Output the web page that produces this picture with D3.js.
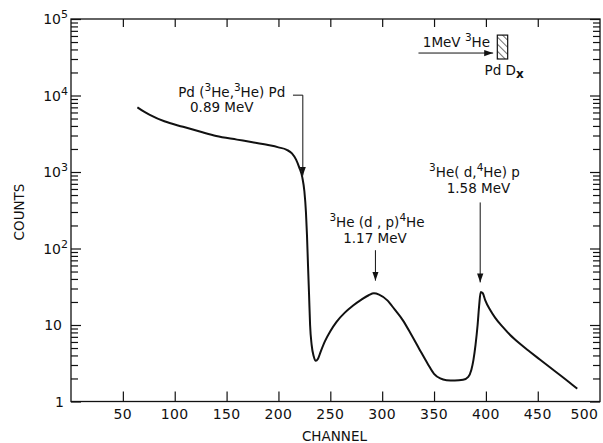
<!DOCTYPE html>
<html><head><meta charset="utf-8">
<script src="https://cdn.jsdelivr.net/npm/d3@7"></script>
<style>
body{margin:0;background:#fff;}
text{font-family:"DejaVu Sans",sans-serif;fill:#111;}
</style></head>
<body><svg id="c" width="603" height="443"></svg>
<script>
// ---- data ----
const channels = [64,70,76,90,108,125,140,160,175,190,200,208,213,217,220,223,225,226.5,227.5,228.5,229.5,230.5,232,234,236,238,241,245,250,256,264,272,280,287,292,297,305,312,320,328,336,344,350,356,362,370,378,383,386,388,390,392,393.5,395,397,399.3,404,409,416,423.4,432,442.7,452,462,472,480,488];
const counts = [7000,6200,5600,4600,3900,3350,2950,2650,2450,2250,2100,1950,1750,1450,1150,850,560,300,150,60,25,10,5.5,3.9,3.4,3.6,4.6,6.2,8.3,11,14.5,18,21.5,24.5,26,25,21,16,11.5,7.5,4.8,3.1,2.3,2.0,1.9,1.88,1.92,2.1,2.6,3.5,5.5,10,18,27,26,21.2,15.8,12.4,9.5,7.4,5.8,4.44,3.54,2.78,2.19,1.8,1.47];
const xTicks = [50,100,150,200,250,300,350,400,450];
const xTickLabels = ["50","100","150","200","250","300","350","400","450","500"];
const xLabelValues = [50,100,150,200,250,300,350,400,450,495];
const yDecades = [1,10,100,1000,10000,100000];
const yExponents = ["","","2","3","4","5"];

const svg = d3.select("#c");
const L=71, R=600, T=19, B=401.5;
const x = d3.scaleLinear().domain([0,510]).range([L,R]);
const y = d3.scaleLog().domain([1,1e5]).range([B,T]);

// minor ticks
const minor=[];
for(let d=1; d<1e5; d*=10) for(let k=2;k<=9;k++) minor.push(d*k);

const g = svg.append("g");
g.append("rect").attr("x",L).attr("y",T).attr("width",R-L).attr("height",B-T)
 .attr("fill","none").attr("stroke","#111").attr("stroke-width",1.3);

g.append("g").attr("transform",`translate(${L},0)`).call(d3.axisLeft(y).tickValues(yDecades).tickSize(-10).tickFormat(""));
g.append("g").attr("transform",`translate(${L},0)`).call(d3.axisLeft(y).tickValues(minor).tickSize(-7).tickFormat(""));
g.append("g").attr("transform",`translate(${R},0)`).call(d3.axisRight(y).tickValues(yDecades).tickSize(-10).tickFormat(""));
g.append("g").attr("transform",`translate(${R},0)`).call(d3.axisRight(y).tickValues(minor).tickSize(-7).tickFormat(""));
g.append("g").attr("transform",`translate(0,${B})`).call(d3.axisBottom(x).tickValues(xTicks).tickSize(-10).tickFormat(""));
g.append("g").attr("transform",`translate(0,${T})`).call(d3.axisTop(x).tickValues(xTicks).tickSize(-8).tickFormat(""));
g.selectAll(".domain").remove();
g.selectAll(".tick line").attr("stroke","#111").attr("stroke-width",1.2);

// y tick labels
yDecades.forEach((v,i)=>{
  const t = svg.append("text").attr("x", i===0?64:62).attr("y", y(v)+5)
    .attr("text-anchor","end").attr("font-size",14);
  if(i===0){ t.text("1"); }
  else if(!yExponents[i]){ t.text("10"); }
  else { t.attr("x",68); t.append("tspan").text("10"); t.append("tspan").attr("dy",-6).attr("font-size",11).text(yExponents[i]); }
});
// x tick labels
xLabelValues.forEach((v,i)=>{
  svg.append("text").attr("x",x(v)).attr("y",419).attr("text-anchor","middle")
    .attr("font-size",14).attr("letter-spacing",0.4).text(xTickLabels[i]);
});
svg.append("text").attr("x",x(254)).attr("y",441).attr("text-anchor","middle").attr("font-size",13.5).text("CHANNEL");
svg.append("text").attr("transform",`translate(24,${y(300)}) rotate(-90)`).attr("text-anchor","middle").attr("font-size",13.5).text("COUNTS");

// curve
const pts = channels.map((c,i)=>[c,counts[i]]);
svg.append("path").datum(pts)
  .attr("d", d3.line().x(d=>x(d[0])).y(d=>y(d[1])).curve(d3.curveMonotoneX))
  .attr("fill","none").attr("stroke","#111").attr("stroke-width",2);

// arrowheads
const defs = svg.append("defs");
defs.append("marker").attr("id","ah").attr("viewBox","0 0 10 10").attr("refX",10).attr("refY",5)
  .attr("markerWidth",9).attr("markerHeight",9).attr("markerUnits","userSpaceOnUse").attr("orient","auto")
  .append("path").attr("d","M0,1.5 L10,5 L0,8.5 Z").attr("fill","#111");

function sup(t, parts){
  parts.forEach(p=>{
    if(p.s) t.append("tspan").attr("dy",-6).attr("font-size",10.5).text(p.s);
    else t.append("tspan").attr("dy",p.after?6:0).text(p.t);
  });
}

// annotation 1
const a1 = {tx:155, ty:9600, lx0:214, lx1:223.5, ly:10100, tip:900};
let t1 = svg.append("text").attr("x",x(a1.tx)).attr("y",y(a1.ty)).attr("text-anchor","middle").attr("font-size",13.5);
sup(t1,[{t:"Pd ("},{s:"3"},{t:"He,",after:true},{s:"3"},{t:"He) Pd",after:true}]);
svg.append("text").attr("x",x(a1.tx)-10).attr("y",y(a1.ty)+15).attr("text-anchor","middle").attr("font-size",13.5).text("0.89 MeV");
svg.append("path").attr("d",`M${x(a1.lx0)},${y(a1.ly)} H${x(a1.lx1)} V${y(a1.tip)}`)
  .attr("fill","none").attr("stroke","#111").attr("stroke-width",1).attr("marker-end","url(#ah)");

// annotation 2
const a2 = {tx:295, ty:193, ax:293.5, a0:95, tip:38};
let t2 = svg.append("text").attr("x",x(a2.tx)).attr("y",y(a2.ty)).attr("text-anchor","middle").attr("font-size",13.5);
sup(t2,[{s:"3"},{t:"He (d , p)",after:true},{s:"4"},{t:"He",after:true}]);
svg.append("text").attr("x",x(a2.tx)-2).attr("y",y(a2.ty)+16).attr("text-anchor","middle").attr("font-size",13.5).text("1.17 MeV");
svg.append("line").attr("x1",x(a2.ax)).attr("x2",x(a2.ax)).attr("y1",y(a2.a0)).attr("y2",y(a2.tip))
  .attr("stroke","#111").attr("stroke-width",1).attr("marker-end","url(#ah)");

// annotation 3
const a3 = {tx:389, ty:870, ax:394.5, a0:400, tip:36};
let t3 = svg.append("text").attr("x",x(a3.tx)).attr("y",y(a3.ty)).attr("text-anchor","middle").attr("font-size",13.5);
sup(t3,[{s:"3"},{t:"He( d,",after:true},{s:"4"},{t:"He) p",after:true}]);
svg.append("text").attr("x",x(a3.tx)+4).attr("y",y(a3.ty)+16).attr("text-anchor","middle").attr("font-size",13.5).text("1.58 MeV");
svg.append("line").attr("x1",x(a3.ax)).attr("x2",x(a3.ax)).attr("y1",y(a3.a0)).attr("y2",y(a3.tip))
  .attr("stroke","#111").attr("stroke-width",1).attr("marker-end","url(#ah)");

// inset
const ins = {ax0:335, ax1:407, ay:35900, tx:404, ty:42500, rx0:411, rx1:421, ry0:61600, ry1:30000, px:417.6, py:18500};
defs.append("pattern").attr("id","hatch").attr("patternUnits","userSpaceOnUse").attr("width",5).attr("height",5)
  .attr("patternTransform","rotate(-45)")
  .append("line").attr("x1",0).attr("y1",0).attr("x2",0).attr("y2",5).attr("stroke","#111").attr("stroke-width",1.2);
svg.append("line").attr("x1",x(ins.ax0)).attr("x2",x(ins.ax1)).attr("y1",y(ins.ay)).attr("y2",y(ins.ay))
  .attr("stroke","#111").attr("stroke-width",1).attr("marker-end","url(#ah)");
let t4 = svg.append("text").attr("x",x(ins.tx)).attr("y",y(ins.ty)).attr("text-anchor","end").attr("font-size",13.5);
sup(t4,[{t:"1MeV "},{s:"3"},{t:"He",after:true}]);
svg.append("rect").attr("x",x(ins.rx0)).attr("y",y(ins.ry0)).attr("width",x(ins.rx1)-x(ins.rx0)).attr("height",y(ins.ry1)-y(ins.ry0))
  .attr("fill","url(#hatch)").attr("stroke","#111").attr("stroke-width",1.2);
let t5 = svg.append("text").attr("x",x(ins.px)).attr("y",y(ins.py)).attr("text-anchor","middle").attr("font-size",13.5);
t5.append("tspan").text("Pd D");
t5.append("tspan").attr("dy",3).attr("font-size",12).attr("font-weight","bold").text("x");
</script></body></html>
